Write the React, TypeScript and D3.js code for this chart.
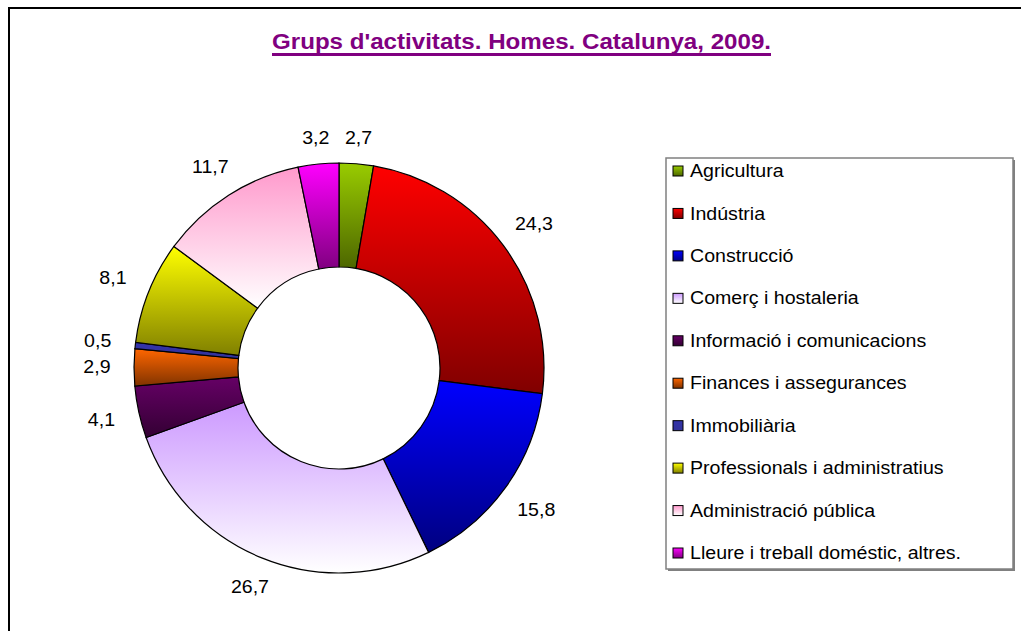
import React from "react";
import * as d3 from "d3";

const categories = [
  "Agricultura",
  "Indústria",
  "Construcció",
  "Comerç i hostaleria",
  "Informació i comunicacions",
  "Finances i assegurances",
  "Immobiliària",
  "Professionals i administratius",
  "Administració pública",
  "Lleure i treball doméstic, altres.",
];
const values = [2.7, 24.3, 15.8, 26.7, 4.1, 2.9, 0.5, 8.1, 11.7, 3.2];
const labels = ["2,7", "24,3", "15,8", "26,7", "4,1", "2,9", "0,5", "8,1", "11,7", "3,2"];
const topColors = ["#99cc00", "#ff0000", "#0000ff", "#cc99ff", "#660066", "#ff6600", "#3333aa", "#ffff00", "#ff99cc", "#ff00ff"];
const bottomColors = ["#4d6600", "#800000", "#000080", "#ffffff", "#330033", "#803300", "#333399", "#808000", "#ffffff", "#800080"];

const W = 1021;
const H = 631;
const cx = 339;
const cy = 368;
const R = 205;
const r0 = 101;
const FS = 17.5;
const SX = 1.12;

export default function App() {
  const pie = d3.pie<number>().sort(null).value((d) => d);
  const arcs = pie(values);
  const arcGen = d3.arc<d3.PieArcDatum<number>>().innerRadius(r0).outerRadius(R);

  const legendX = 666;
  const legendY = 158;
  const legendW = 347;
  const legendH = 411;
  const itemY = d3.scalePoint<number>().domain(d3.range(categories.length)).range([171, 553]);

  return (
    <svg width={W} height={H} style={{ position: "absolute", left: 0, top: 0 }} fontFamily="'Liberation Sans', Arial, sans-serif">
      <defs>
        {categories.map((_, i) => (
          <linearGradient key={i} id={`g${i}`} x1="0" y1="0" x2="0" y2="1">
            <stop offset="0" stopColor={topColors[i]} />
            <stop offset="1" stopColor={bottomColors[i]} />
          </linearGradient>
        ))}
      </defs>
      <rect x={0} y={0} width={W} height={H} fill="#fff" />
      <rect x={9} y={8} width={W + 20} height={H + 20} fill="none" stroke="#000" strokeWidth={2} />
      <text x={272} y={49} fontSize={22} fontWeight="bold" fill="#800080" textLength={499} lengthAdjust="spacingAndGlyphs">
        Grups d'activitats. Homes. Catalunya, 2009.
      </text>
      <rect x={272} y={53} width={499} height={3} fill="#800080" />
      <g transform={`translate(${cx},${cy})`}>
        {arcs.map((a, i) => (
          <path key={i} d={arcGen(a) || ""} fill={`url(#g${i})`} stroke="#000" strokeWidth={1.2} />
        ))}
        {arcs.map((a, i) => {
          const ang = (a.startAngle + a.endAngle) / 2;
          const s = Math.sin(ang);
          const c = Math.cos(ang);
          const rr = R + 16 + Math.abs(s) * 21 + Math.abs(c) * 8;
          return (
            <text
              key={i}
              transform={`translate(${rr * s},${-rr * c}) scale(${SX},1)`}
              dy="0.35em"
              textAnchor="middle"
              fontSize={FS}
              fill="#000"
            >
              {labels[i]}
            </text>
          );
        })}
      </g>
      <rect x={legendX + 2} y={legendY + 2} width={legendW} height={legendH} fill="#808080" />
      <rect x={legendX} y={legendY} width={legendW} height={legendH} fill="#fff" stroke="#808080" strokeWidth={1.5} />
      {categories.map((cat, i) => (
        <g key={i}>
          <rect x={673} y={(itemY(i) as number) - 5} width={10} height={10} fill={`url(#g${i})`} stroke="#000" strokeWidth={1} />
          <text transform={`translate(690,${itemY(i) as number}) scale(${SX},1)`} dy="0.35em" fontSize={FS} fill="#000">
            {cat}
          </text>
        </g>
      ))}
    </svg>
  );
}
